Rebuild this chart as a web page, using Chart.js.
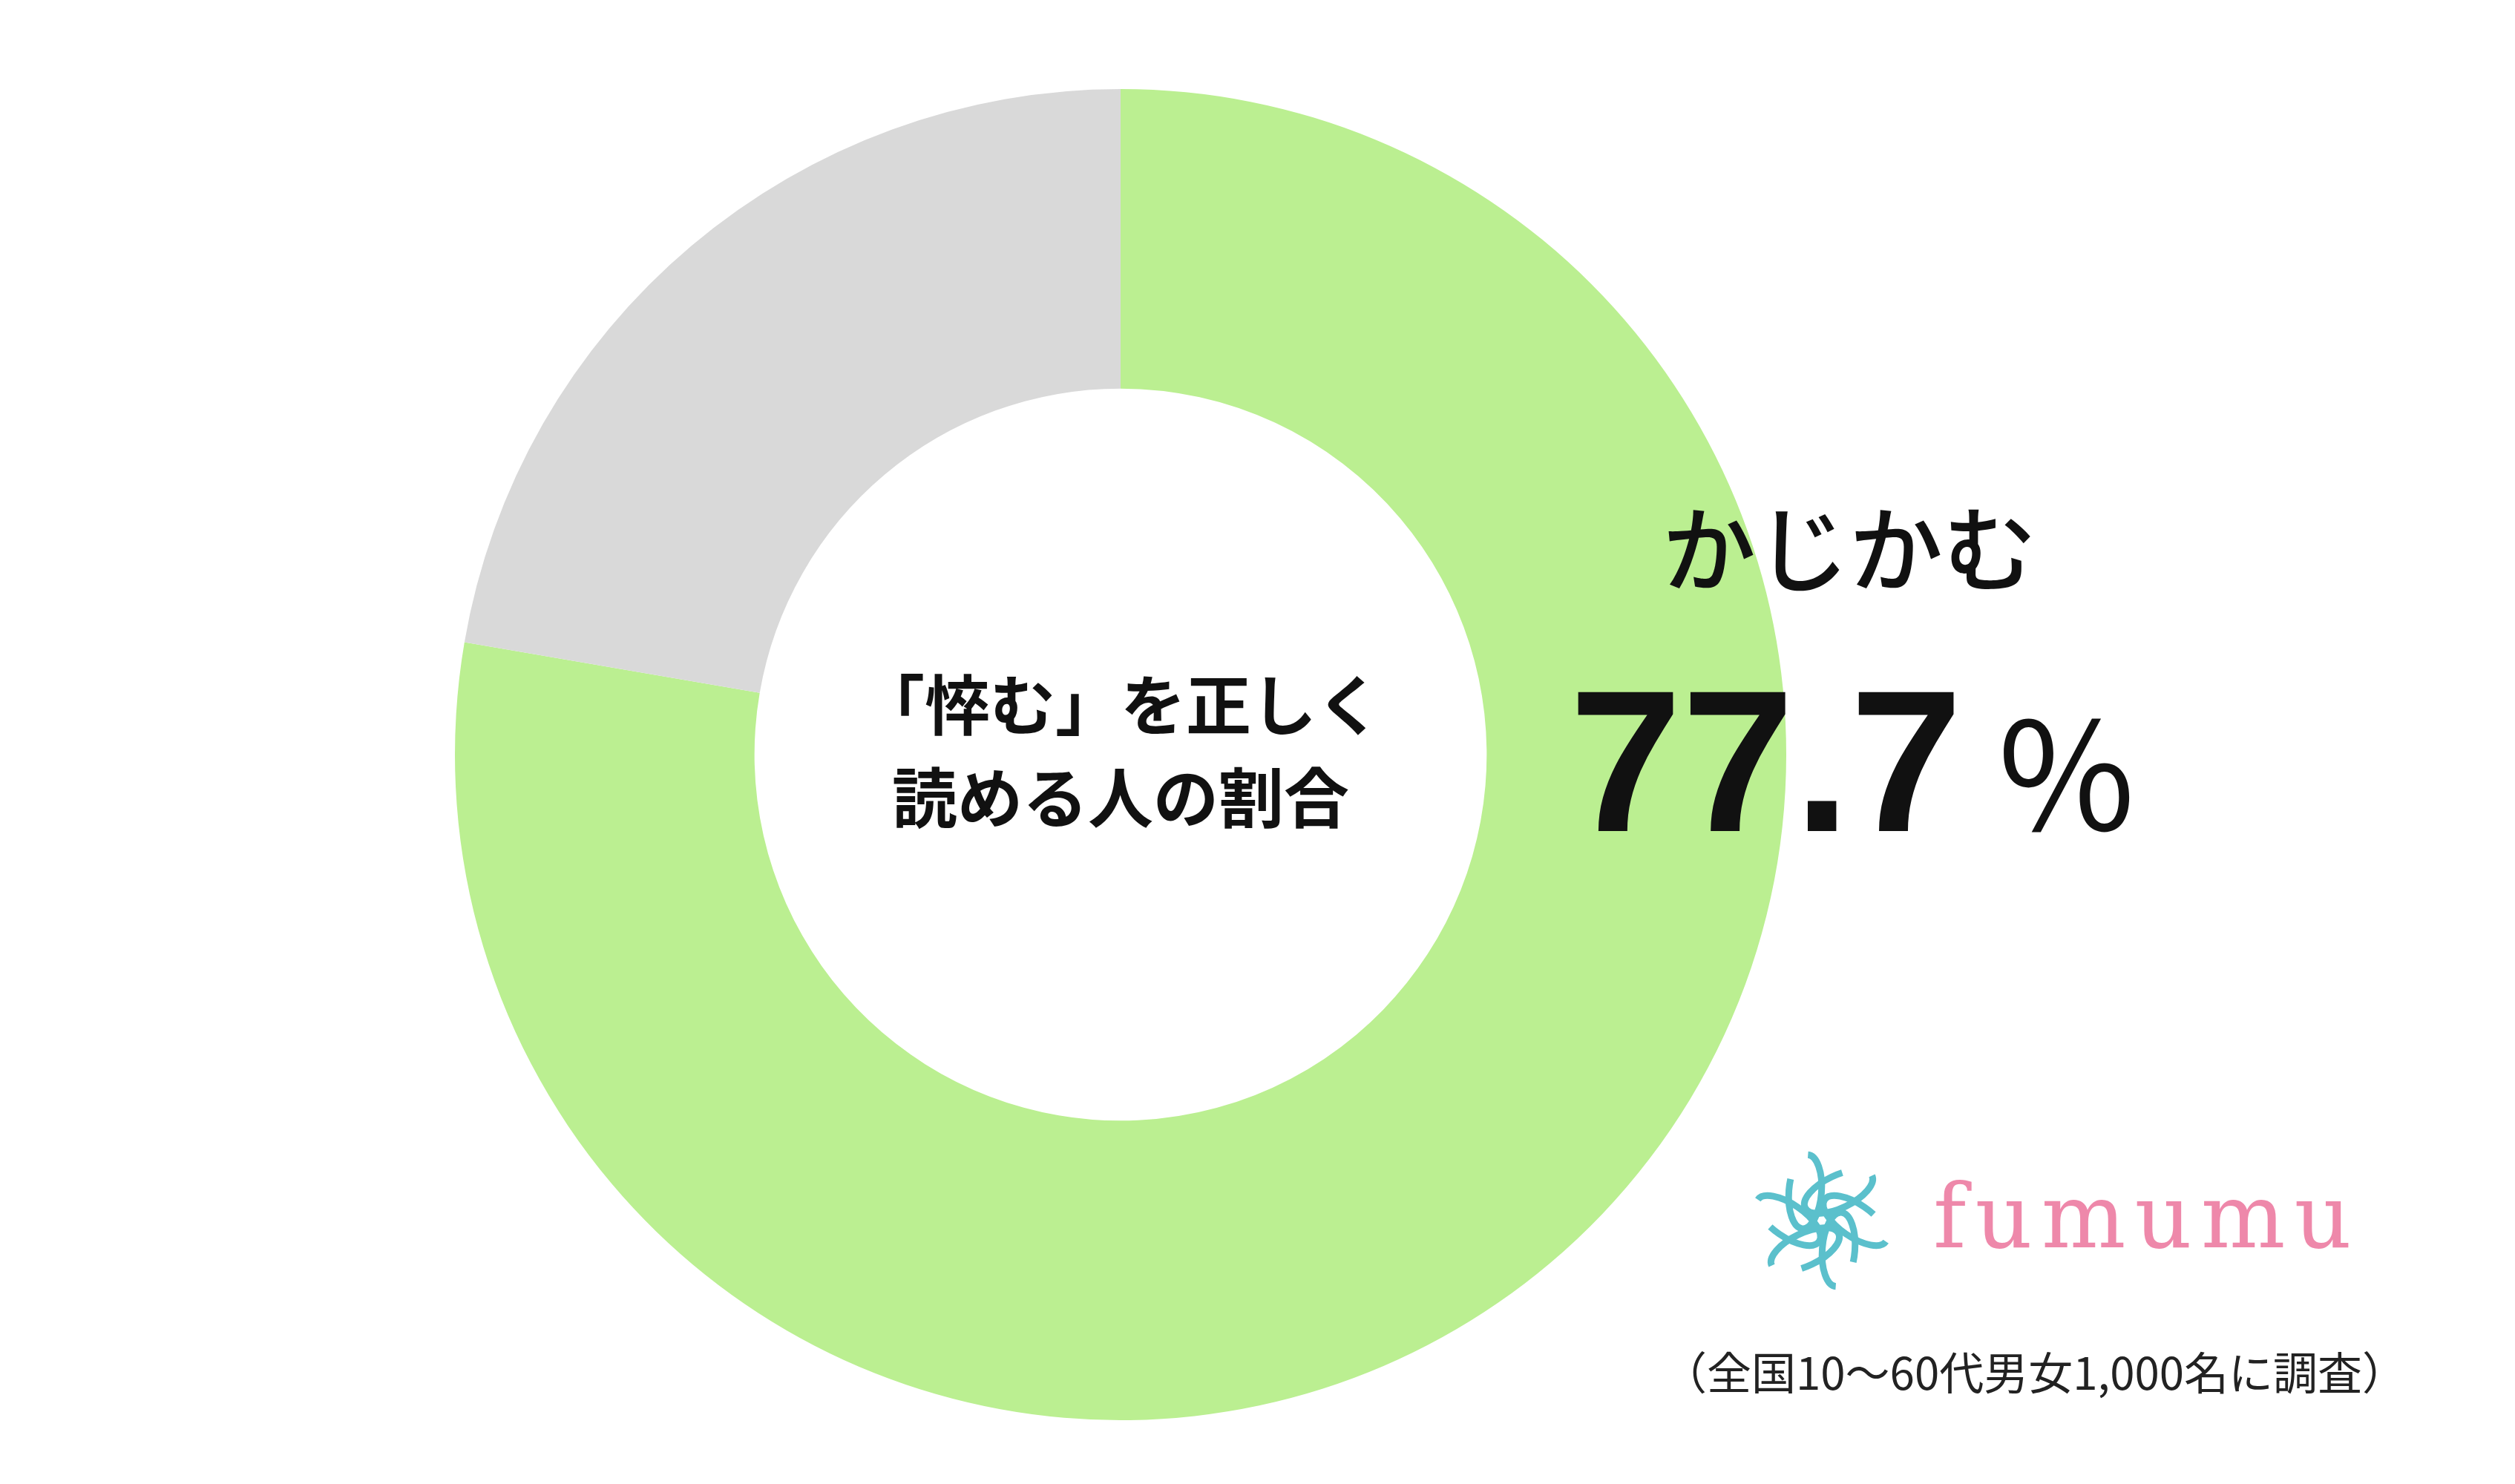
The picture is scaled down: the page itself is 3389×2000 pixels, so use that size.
<!DOCTYPE html>
<html>
<head>
<meta charset="utf-8">
<script src="https://cdn.jsdelivr.net/npm/chart.js@4"></script>
<style>
  html, body { margin: 0; padding: 0; background: #fff; }
  #wrap { width: 3389px; height: 2000px; position: relative; }
</style>
</head>
<body>
<div id="wrap"><canvas id="pie" width="3389" height="2000"></canvas></div>
<script>
const labels = ['かじかむ', 'その他'];
const values = [77.7, 22.3];
const colors = ['#bbef91', '#d9d9d9'];
const centerLines = ['「悴む」を正しく', '読める人の割合'];
const sourceNote = '（全国10〜60代男女1,000名に調査）';

const JP = '"Noto Sans CJK JP", "Noto Sans", sans-serif';

const overlay = {
    id: 'overlay',
    afterDraw(chart) {
        const ctx = chart.ctx;
        ctx.save();
        ctx.fillStyle = '#111';
        ctx.textBaseline = 'middle';

        // center label
        ctx.textAlign = 'center';
        ctx.font = `bold 88px ${JP}`;
        ctx.fillText(centerLines[0], 1510, 950);
        ctx.fillText(centerLines[1], 1510, 1075);

        // answer + percentage
        ctx.textAlign = 'left';
        ctx.font = `500 126px ${JP}`;
        ctx.fillText(labels[0], 2240, 740);
        ctx.font = `bold 272px "Liberation Sans", Arial, sans-serif`;
        ctx.fillText(values[0].toFixed(1), 2115, 1045);
        const w = ctx.measureText(values[0].toFixed(1)).width;
        ctx.font = `200px ${JP}`;
        ctx.fillText('％', 2115 + w + 40, 1045);

        // logo
        ctx.fillStyle = '#ee88aa';
        ctx.font = `120px "DejaVu Serif", serif`;
        ctx.letterSpacing = '12px';
        ctx.fillText('fumumu', 2605, 1650);
        ctx.letterSpacing = '0px';
        ctx.strokeStyle = '#5bc0cc';
        ctx.lineWidth = 9;
        const cx = 2455, cy = 1645;
        for (let i = 0; i < 6; i++) {
            const a = i * Math.PI / 3;
            ctx.beginPath();
            ctx.ellipse(cx + Math.cos(a) * 45, cy + Math.sin(a) * 45, 50, 22, a + 0.6, 0, Math.PI * 1.6);
            ctx.stroke();
        }

        // source
        ctx.fillStyle = '#222';
        ctx.font = `60px ${JP}`;
        ctx.fillText(sourceNote, 2240, 1850);
        ctx.restore();
    }
};

new Chart(document.getElementById('pie'), {
    type: 'doughnut',
    data: {
        labels: labels,
        datasets: [{
            data: values,
            backgroundColor: colors,
            borderWidth: 0
        }]
    },
    options: {
        responsive: false,
        animation: false,
        cutout: '55%',
        layout: { padding: { left: 610, right: 979, top: 120, bottom: 86 } },
        plugins: { legend: { display: false }, tooltip: { enabled: false } }
    },
    plugins: [overlay]
});
</script>
</body>
</html>
